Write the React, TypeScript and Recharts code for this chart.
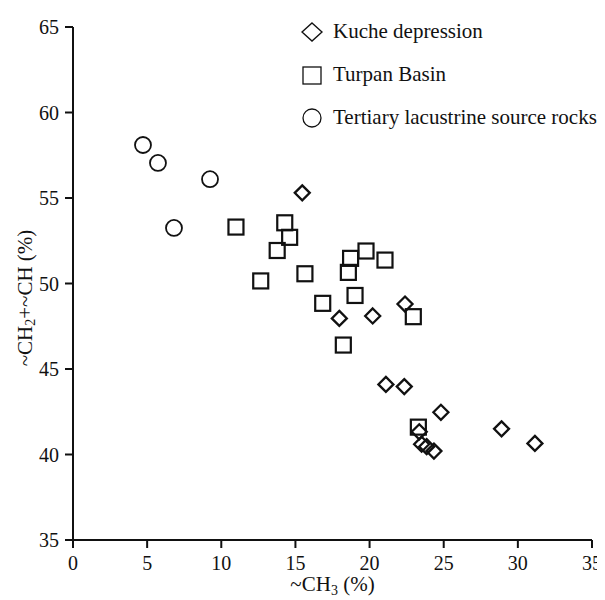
import React from 'react';
import { ScatterChart, Scatter, XAxis, YAxis, Legend } from 'recharts';

// ~CH3 (%) vs ~CH2+~CH (%)
const kucheX = [15.46, 17.96, 20.21, 22.39, 21.1, 22.34, 24.81, 23.35, 23.51, 23.85, 24.34, 28.9, 31.15];
const kucheY = [55.3, 47.96, 48.1, 48.8, 44.1, 43.97, 42.47, 41.33, 40.6, 40.46, 40.2, 41.5, 40.65];

const turpanX = [10.99, 12.66, 13.77, 14.28, 14.61, 15.64, 16.84, 18.23, 18.57, 18.72, 19.02, 19.76, 21.04, 22.95, 23.29];
const turpanY = [53.3, 50.15, 51.93, 53.55, 52.7, 50.57, 48.84, 46.4, 50.65, 51.47, 49.3, 51.9, 51.37, 48.06, 41.6];

const tertiaryX = [4.72, 5.73, 6.81, 9.24];
const tertiaryY = [58.1, 57.05, 53.25, 56.1];

const xTicks = [0, 5, 10, 15, 20, 25, 30, 35];
const yTicks = [35, 40, 45, 50, 55, 60, 65];

const seriesNames = ['Kuche depression', 'Turpan Basin', 'Tertiary lacustrine source rocks'];

const toPoints = (xs: number[], ys: number[]) => xs.map((x, i) => ({ x, y: ys[i] }));
const kucheData = toPoints(kucheX, kucheY);
const turpanData = toPoints(turpanX, turpanY);
const tertiaryData = toPoints(tertiaryX, tertiaryY);

const FONT = '"Liberation Serif", "Times New Roman", serif';
const INK = '#111';

const Diamond = (props: any) => {
  const { cx, cy } = props;
  const r = 7.5;
  return (
    <path
      d={`M${cx},${cy - r}L${cx + r},${cy}L${cx},${cy + r}L${cx - r},${cy}Z`}
      fill="none"
      stroke={INK}
      strokeWidth={2.3}
    />
  );
};

const Square = (props: any) => {
  const { cx, cy } = props;
  const h = 7.5;
  return <rect x={cx - h} y={cy - h} width={2 * h} height={2 * h} fill="none" stroke={INK} strokeWidth={2.2} />;
};

const Circle = (props: any) => {
  const { cx, cy } = props;
  return <circle cx={cx} cy={cy} r={8} fill="none" stroke={INK} strokeWidth={1.8} />;
};

const YLabel = () => {
  const cx = 17;
  const cy = 290;
  return (
    <text
      x={cx}
      y={cy}
      transform={`rotate(-90, ${cx}, ${cy})`}
      textAnchor="middle"
      dominantBaseline="central"
      fontFamily={FONT}
      fontSize={21}
      fill={INK}
    >
      <tspan>~CH</tspan>
      <tspan fontSize={14} dy={5}>2</tspan>
      <tspan dy={-5}>+~CH (%)</tspan>
    </text>
  );
};

const XLabel = (props: any) => {
  const vb = props.viewBox || {};
  const cx = (vb.x ?? 0) + (vb.width ?? 0) / 2;
  const cy = (vb.y ?? 0) + 51;
  return (
    <text x={cx} y={cy} textAnchor="middle" fontFamily={FONT} fontSize={21} fill={INK}>
      <tspan>~CH</tspan>
      <tspan fontSize={14} dy={4}>3</tspan>
      <tspan dy={-4}> (%)</tspan>
    </text>
  );
};

const LegendContent = () => {
  const icons = [
    <path key="d" d="M11,1L21,10L11,19L1,10Z" fill="none" stroke={INK} strokeWidth={1.4} />,
    <rect key="s" x={2} y={2} width={18} height={17} fill="none" stroke={INK} strokeWidth={1.3} />,
    <circle key="c" cx={11} cy={10} r={9} fill="none" stroke={INK} strokeWidth={1.3} />,
  ];
  return (
    <div style={{ fontFamily: FONT, fontSize: 21, color: INK, lineHeight: 1 }}>
      {seriesNames.map((name, i) => (
        <div key={name} style={{ display: 'flex', alignItems: 'center', height: 43, whiteSpace: 'nowrap' }}>
          <svg width={22} height={20} style={{ marginRight: 10, flex: 'none' }}>
            {icons[i]}
          </svg>
          <span>{name}</span>
        </div>
      ))}
    </div>
  );
};

export default function App() {
  return (
    <ScatterChart
      width={597}
      height={592}
      margin={{ top: 19, right: 13, left: 20, bottom: 0 }}
      style={{ background: '#fff' }}
    >
      <XAxis
        type="number"
        dataKey="x"
        domain={[0, 35]}
        ticks={xTicks}
        interval={0}
        allowDataOverflow
        height={60}
        tickSize={8}
        tickMargin={8}
        axisLine={{ stroke: INK, strokeWidth: 2 }}
        tickLine={{ stroke: INK, strokeWidth: 2 }}
        tick={{ fontFamily: FONT, fontSize: 20, fill: INK }}
        label={<XLabel />}
      />
      <YAxis
        type="number"
        dataKey="y"
        domain={[35, 65]}
        ticks={yTicks}
        interval={0}
        allowDataOverflow
        width={45}
        tickSize={8}
        tickMargin={6}
        axisLine={{ stroke: INK, strokeWidth: 2 }}
        tickLine={{ stroke: INK, strokeWidth: 2 }}
        tick={{ fontFamily: FONT, fontSize: 20, fill: INK }}
        label={<YLabel />}
      />
      <Legend
        layout="vertical"
        align="center"
        verticalAlign="middle"
        content={<LegendContent />}
        wrapperStyle={{ top: 2, left: 293, width: 304, height: 130 }}
      />
      <Scatter name={seriesNames[0]} data={kucheData} shape={<Diamond />} isAnimationActive={false} />
      <Scatter name={seriesNames[1]} data={turpanData} shape={<Square />} isAnimationActive={false} />
      <Scatter name={seriesNames[2]} data={tertiaryData} shape={<Circle />} isAnimationActive={false} />
    </ScatterChart>
  );
}
